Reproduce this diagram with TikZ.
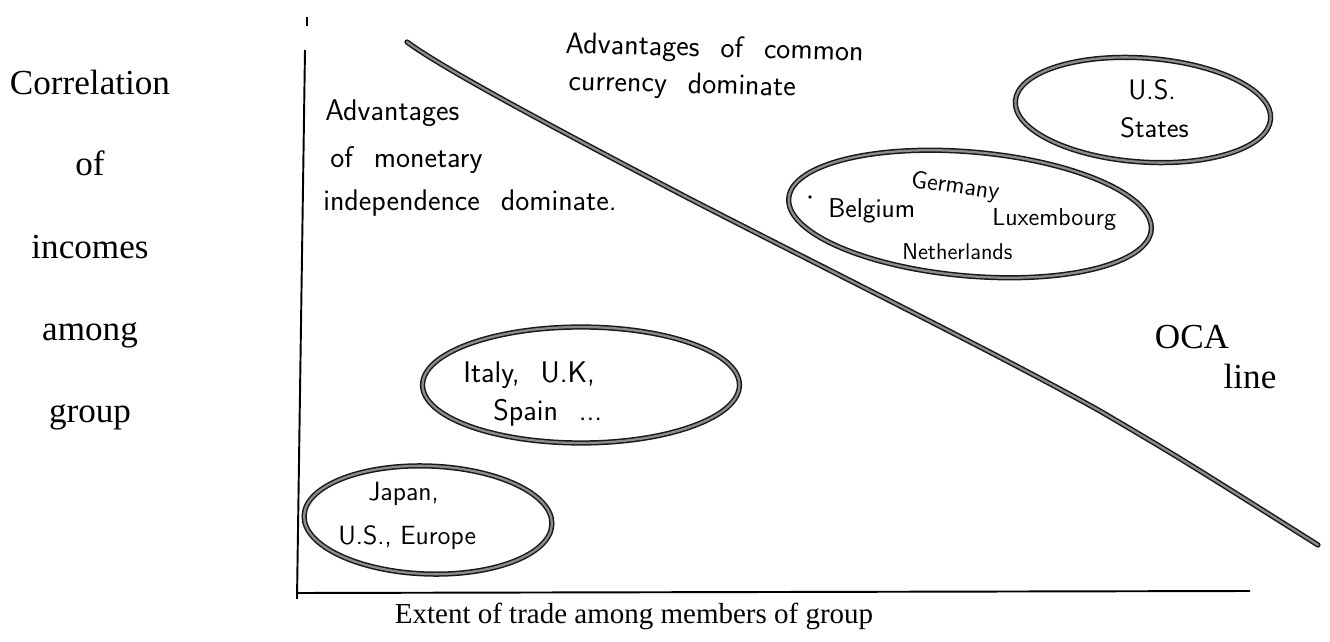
\documentclass[tikz,border=0pt]{standalone}
\usepackage{fontspec}
\setmainfont{Liberation Serif}
\usetikzlibrary{shapes.geometric}
\newcommand{\gap}{\hspace{0.7em}}
\begin{document}
\begin{tikzpicture}[x=0.02cm,y=-0.02cm,
  lbl/.style={font=\fontsize{20}{22}\selectfont, inner sep=0pt, anchor=base},
  hw/.style={font=\sffamily\fontsize{17}{19}\selectfont, inner sep=0pt, anchor=base west},
  hs/.style={font=\sffamily\fontsize{14}{16}\selectfont, inner sep=0pt, anchor=base west},
  axis/.style={line width=1.1pt, black},
  pen/.style={line width=3pt, black!90, line cap=round, line join=round,
    postaction={draw, black!45, line width=1.3pt}},
  loop/.style={draw, ellipse, line width=3pt, black!90,
    postaction={draw, black!45, line width=1.3pt}, inner sep=0pt}
]
\useasboundingbox (0,0) rectangle (1330,642);
% axes
\coordinate (top) at (305,50);
\coordinate (orig) at (297,593);
\coordinate (xend) at (1250,591);
\coordinate (tick) at (297,599);
\draw[axis] (top) -- (tick);
\draw[axis] (orig) -- (xend);
\coordinate (tk1) at (307,17);
\coordinate (tk2) at (307,26);
\draw[line width=0.8pt] (tk1) -- (tk2);
% y label
\node[lbl] (c1) at (90,95) {Correlation};
\node[lbl] (c2) at (90,175) {of};
\node[lbl] (c3) at (90,258) {incomes};
\node[lbl] (c4) at (90,340) {among};
\node[lbl] (c5) at (90,422) {group};
% x label
\node[lbl, font=\fontsize{16.5}{18}\selectfont] (xl) at (634,623) {Extent of trade among members of group};
% OCA line
\coordinate (o1) at (407,42);
\coordinate (o4) at (690,199);
\coordinate (o6) at (1100,411);
\coordinate (o7) at (1318,545);
\draw[pen] (o1) .. controls (445,70) and (560,131) .. (o4)
  .. controls (820,266) and (1000,355) .. (o6)
  .. controls (1180,458) .. (o7);
\node[lbl] (oca) at (1192,348) {OCA};
\node[lbl] (ocl) at (1250,388) {line};
% region labels
\node[hw, rotate=-1.5] (a1) at (565,53) {Advantages\gap of\gap common};
\node[hw, rotate=-1.5] (a2) at (568,90) {currency\gap dominate};
\node[hw] (b1) at (325,121) {Advantages};
\node[hw] (b2) at (330,168) {of\gap monetary};
\node[hw] (b3) at (323,211) {independence\gap dominate.};
% groups
\node[loop, minimum width=256*0.569pt, minimum height=104*0.569pt, rotate=-4] (us) at (1143,110) {};
\node[hw, font=\sffamily\fontsize{16}{18}\selectfont] (us1) at (1128,100) {U.S.};
\node[hw, font=\sffamily\fontsize{16}{18}\selectfont] (us2) at (1120,138) {States};
\node[loop, minimum width=364*0.569pt, minimum height=124*0.569pt, rotate=-5] (eu) at (970,214) {};
\fill (810,197) circle (1.1pt);
\node[hs, rotate=-8] (ge) at (910,187) {Germany};
\node[hs, font=\sffamily\fontsize{15.5}{17}\selectfont] (be) at (828,217) {Belgium};
\node[hs] (lu) at (992,226) {Luxembourg};
\node[hs, font=\sffamily\fontsize{13}{15}\selectfont] (ne) at (902,259) {Netherlands};
\node[loop, minimum width=317*0.569pt, minimum height=116*0.569pt] (it) at (581,385) {};
\node[hw] (it1) at (463,382) {Italy,\gap U.K,};
\node[hw] (it2) at (493,420) {Spain\gap ...};
\node[loop, minimum width=248*0.569pt, minimum height=108*0.569pt, rotate=-2] (jp) at (428,520) {};
\node[hw, font=\sffamily\fontsize{15}{17}\selectfont] (jp1) at (368,500) {Japan,};
\node[hw, font=\sffamily\fontsize{15}{17}\selectfont] (jp2) at (338,544) {U.S.,\ Europe};
\end{tikzpicture}
\end{document}
